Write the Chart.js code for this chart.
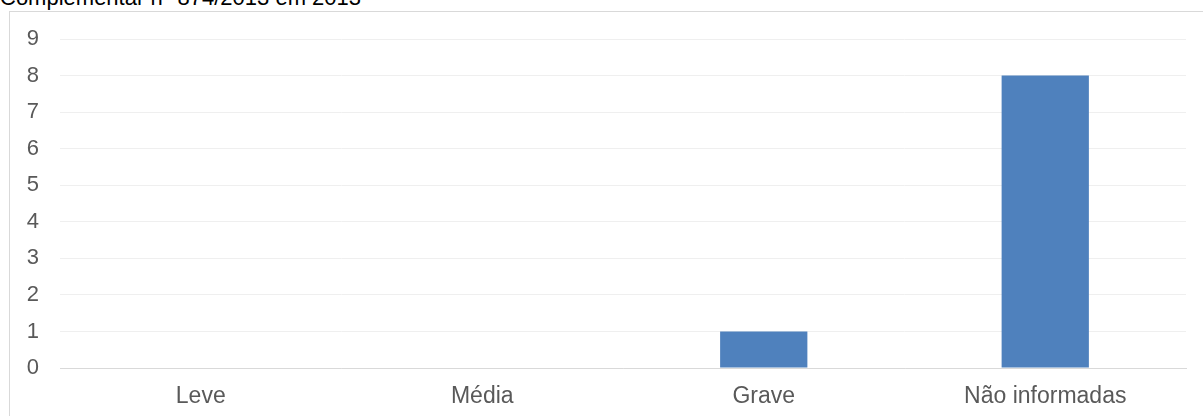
<!DOCTYPE html>
<html>
<head>
<meta charset="utf-8">
<script src="https://cdn.jsdelivr.net/npm/chart.js@4"></script>
<style>
  html, body { margin: 0; padding: 0; background: #fff; overflow: hidden; }
  .frame { position: absolute; left: 9px; top: 11px; width: 1300px; height: 500px; border: 1px solid #d9d9d9; }
  .title { position: absolute; left: 0; top: -13px; font: 22px "Liberation Sans", Arial, sans-serif; line-height: 22px; color: #000; white-space: nowrap; }
  .wrap { position: absolute; left: 0; top: 0; width: 1203px; height: 416px; }
</style>
</head>
<body>
<div class="frame"></div>
<div class="title">Complementar n° 874/2013 em 2013</div>
<div class="wrap"><canvas id="chart"></canvas></div>
<script>
const categories = ['Leve', 'Média', 'Grave', 'Não informadas'];
const values = [0, 0, 1, 8];
const yTicks = [0, 1, 2, 3, 4, 5, 6, 7, 8, 9];

const ctx = document.getElementById('chart');
new Chart(ctx, {
  type: 'bar',
  data: {
    labels: categories,
    datasets: [{
      data: values,
      backgroundColor: '#4f81bd',
      categoryPercentage: 1,
      barPercentage: 0.31,
    }],
  },
  options: {
    responsive: true,
    maintainAspectRatio: false,
    animation: false,
    layout: { padding: { top: 39, right: 17, bottom: 0, left: 0 } },
    plugins: { legend: { display: false }, tooltip: { enabled: false } },
    scales: {
      x: {
        grid: { display: false, drawTicks: false },
        border: { color: '#d9d9d9', width: 1 },
        ticks: { color: '#595959', font: { family: 'Liberation Sans', size: 23 }, padding: 15 },
        afterFit: (axis) => { axis.height = 48; },
      },
      y: {
        min: 0,
        max: yTicks[yTicks.length - 1],
        afterBuildTicks: (axis) => { axis.ticks = yTicks.map((v) => ({ value: v })); },
        grid: { color: '#efefef', drawTicks: false },
        border: { display: false },
        ticks: { color: '#595959', font: { family: 'Liberation Sans', size: 22 }, padding: 21 },
        afterFit: (axis) => { axis.width = 60; },
      },
    },
  },
});
</script>
</body>
</html>
